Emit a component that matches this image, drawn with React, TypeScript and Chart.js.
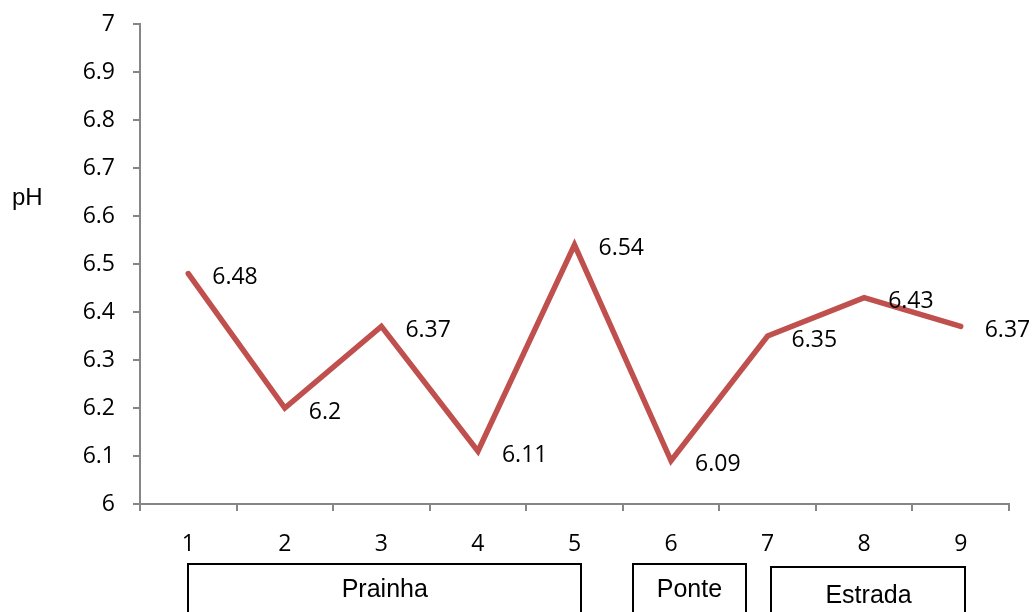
import React, { useEffect, useRef } from "react";
import { Chart, registerables } from "chart.js";

Chart.register(...registerables);

// Sampling points along the watercourse and the measured pH at each
const categories = ["1", "2", "3", "4", "5", "6", "7", "8", "9"];
const phValues = [6.48, 6.2, 6.37, 6.11, 6.54, 6.09, 6.35, 6.43, 6.37];

// Site groups shown as labelled boxes under the axis (spans in category units)
const groupNames = ["Prainha", "Ponte", "Estrada"];
const groupStart = [0.0, 4.605, 6.04];
const groupEnd = [4.07, 5.775, 8.05];

const axisColor = "#868686";
const lineColor = "#C0504D";
const numFont = "'Open Sans', 'DejaVu Sans', sans-serif";
const textFont = "'Liberation Sans', Arial, sans-serif";

const fmt = (v: number) => String(parseFloat(Number(v).toFixed(2)));

// Value labels to the right of each point
const valueLabels = {
  id: "valueLabels",
  afterDatasetsDraw(chart: any) {
    const meta = chart.getDatasetMeta(0);
    const ctx = chart.ctx;
    ctx.save();
    ctx.font = `23px ${numFont}`;
    ctx.fillStyle = "#000";
    ctx.textAlign = "left";
    ctx.textBaseline = "middle";
    meta.data.forEach((pt: any, i: number) => {
      ctx.fillText(fmt(phValues[i]), pt.x + 24, pt.y + 4);
    });
    ctx.restore();
  },
};

// Boxed group names under the category axis, plus the y-axis title
const groupBoxes = {
  id: "groupBoxes",
  afterDraw(chart: any) {
    const ctx = chart.ctx;
    const xs = chart.scales.x;
    const bottom = chart.chartArea.bottom;
    ctx.save();
    ctx.strokeStyle = "#000";
    ctx.lineWidth = 2;
    ctx.fillStyle = "#000";
    ctx.font = `25px ${textFont}`;
    ctx.textAlign = "center";
    ctx.textBaseline = "middle";
    groupNames.forEach((name, i) => {
      const x0 = xs.getPixelForValue(groupStart[i]);
      const x1 = xs.getPixelForValue(groupEnd[i]);
      const top = bottom + (i === 2 ? 63 : 60);
      ctx.strokeRect(Math.round(x0), top, Math.round(x1 - x0), 80);
      ctx.fillText(name, (x0 + x1) / 2, top + (i === 2 ? 29 : 26));
    });
    // axis title
    ctx.font = `24px ${textFont}`;
    ctx.textAlign = "left";
    ctx.fillText("pH", 12, 198);
    ctx.restore();
  },
};

export default function App() {
  const ref = useRef<HTMLCanvasElement>(null);

  useEffect(() => {
    if (!ref.current) return;
    const chart = new Chart(ref.current, {
      type: "line",
      data: {
        labels: categories,
        datasets: [
          {
            data: phValues,
            borderColor: lineColor,
            borderWidth: 5.5,
            borderJoinStyle: "miter",
            borderCapStyle: "round",
            pointRadius: 0,
            tension: 0,
            fill: false,
          },
        ],
      },
      options: {
        responsive: false,
        animation: false,
        events: [],
        layout: { padding: { top: 24, right: 24, left: 0, bottom: 0 } },
        plugins: {
          legend: { display: false },
          tooltip: { enabled: false },
          title: { display: false },
        },
        scales: {
          x: {
            type: "category",
            offset: true,
            afterFit: (s: any) => {
              s.height = 108;
            },
            grid: {
              offset: true,
              drawOnChartArea: false,
              drawTicks: true,
              tickLength: 7,
              color: axisColor,
              lineWidth: 2,
            },
            border: { color: axisColor, width: 2 },
            ticks: {
              color: "#000",
              font: { family: numFont, size: 23 },
              padding: 20,
              maxRotation: 0,
            },
          },
          y: {
            min: 6,
            max: 7,
            afterFit: (s: any) => {
              s.width = 140;
              s.paddingTop = 0;
              s.paddingBottom = 0;
            },
            grid: {
              drawOnChartArea: false,
              drawTicks: true,
              tickLength: 7,
              color: axisColor,
              lineWidth: 2,
            },
            border: { color: axisColor, width: 2 },
            ticks: {
              stepSize: 0.1,
              color: "#000",
              font: { family: numFont, size: 23 },
              padding: 18,
              callback: (v: any) => String(parseFloat(Number(v).toFixed(1))),
            },
          },
        },
      },
      plugins: [valueLabels, groupBoxes],
    });
    return () => chart.destroy();
  }, []);

  return (
    <div style={{ position: "absolute", left: 0, top: 0, width: 1033, height: 612, background: "#fff" }}>
      <canvas ref={ref} width={1033} height={612} style={{ display: "block" }} />
    </div>
  );
}
